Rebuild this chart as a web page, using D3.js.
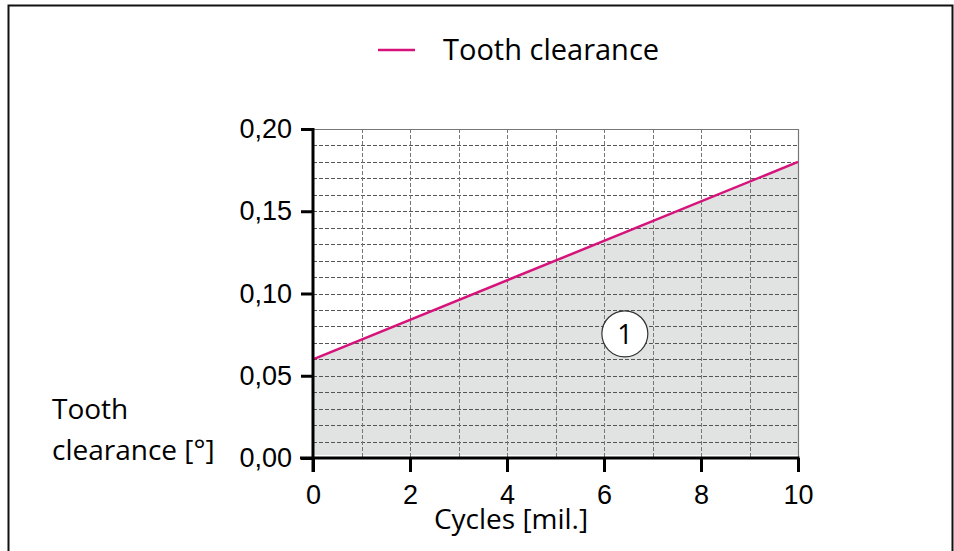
<!DOCTYPE html>
<html>
<head>
<meta charset="utf-8">
<script src="https://cdn.jsdelivr.net/npm/d3@7"></script>
<style>
  html, body { margin: 0; padding: 0; background: #fff; }
  svg { display: block; }
</style>
</head>
<body>
<div id="root"></div>
<script>
// Data
const cycles = [0, 10];
const clearance = [0.06, 0.18];
const xTicks = [0, 2, 4, 6, 8, 10];
const yTicks = [0, 0.05, 0.1, 0.15, 0.2];
const seriesName = "Tooth clearance";
const annotationLabel = "1";
const annotationPos = [6.43, 0.0755];

// Set constants
const fullWidth = 954;
const fullHeight = 551;
const margin = { top: 129, right: 156, bottom: 93, left: 313 };
const innerWidth = fullWidth - margin.left - margin.right;
const innerHeight = fullHeight - margin.top - margin.bottom;
const titleFont = "'Open Sans', sans-serif";
const tickFont = "'Liberation Sans', Arial, sans-serif";
const lineColor = "#d6137a";

const svg = d3
  .select("#root")
  .append("svg")
  .attr("width", fullWidth)
  .attr("height", fullHeight);

// Outer frame (left, top, right)
svg
  .append("path")
  .attr("d", "M8.5,551V5.5H952.5V551")
  .attr("fill", "none")
  .attr("stroke", "#111")
  .attr("stroke-width", 2);

const g = svg
  .append("g")
  .attr("transform", `translate(${margin.left},${margin.top})`);

// Scales
const xScale = d3.scaleLinear().domain([0, 10]).range([0, innerWidth]);
const yScale = d3.scaleLinear().domain([0, 0.2]).range([innerHeight, 0]);

const points = cycles.map((c, i) => ({ x: c, y: clearance[i] }));

// Area under the line
const area = d3
  .area()
  .x((d) => xScale(d.x))
  .y0(yScale(0) - 3)
  .y1((d) => yScale(d.y));
g.append("path")
  .datum(points)
  .attr("d", area)
  .attr("fill", "#e1e2e2");

// Horizontal grid every 0.01
const hGrid = d3.range(1, 20).map((i) => i / 100);
g.selectAll(".hgrid")
  .data(hGrid)
  .enter()
  .append("line")
  .attr("x1", 0)
  .attr("x2", innerWidth)
  .attr("y1", (d) => Math.round(yScale(d)) + 0.5)
  .attr("y2", (d) => Math.round(yScale(d)) + 0.5)
  .attr("stroke", "#555")
  .attr("stroke-width", 1)
  .attr("stroke-dasharray", "4,2");

// Vertical grid every 1
g.selectAll(".vgrid")
  .data(d3.range(1, 10))
  .enter()
  .append("line")
  .attr("x1", (d) => Math.round(xScale(d)) + 0.5)
  .attr("x2", (d) => Math.round(xScale(d)) + 0.5)
  .attr("y1", 0)
  .attr("y2", innerHeight)
  .attr("stroke", "#777")
  .attr("stroke-width", 1)
  .attr("stroke-dasharray", "4,2");

// Top and right border of plot
g.append("path")
  .attr("d", `M0,0.5H${innerWidth + 0.5}V${innerHeight}`)
  .attr("fill", "none")
  .attr("stroke", "#777")
  .attr("stroke-width", 1.2);

// Data line
const line = d3
  .line()
  .x((d) => xScale(d.x))
  .y((d) => yScale(d.y));
g.append("path")
  .datum(points)
  .attr("d", line)
  .attr("fill", "none")
  .attr("stroke", lineColor)
  .attr("stroke-width", 2.5);

// Axes
const yAxis = d3
  .axisLeft(yScale)
  .tickValues(yTicks)
  .tickSize(12)
  .tickPadding(9)
  .tickFormat((d) => d3.format(".2f")(d).replace(".", ","));
const xAxis = d3
  .axisBottom(xScale)
  .tickValues(xTicks)
  .tickSize(14)
  .tickPadding(13)
  .tickFormat(d3.format("d"));

const yAxisG = g.append("g").call(yAxis);
const xAxisG = g
  .append("g")
  .attr("transform", `translate(0,${innerHeight})`)
  .call(xAxis);

[yAxisG, xAxisG].forEach((ax) => {
  ax.select(".domain").remove();
  ax.selectAll(".tick line").attr("stroke", "#000").attr("stroke-width", 3);
  ax.selectAll(".tick text")
    .attr("fill", "#000")
    .style("font-family", tickFont)
    .style("font-size", "27px");
});

// Axis lines
g.append("line")
  .attr("x1", 0)
  .attr("x2", 0)
  .attr("y1", -1)
  .attr("y2", innerHeight + 14)
  .attr("stroke", "#000")
  .attr("stroke-width", 3);
g.append("line")
  .attr("x1", -13)
  .attr("x2", innerWidth + 1.5)
  .attr("y1", innerHeight)
  .attr("y2", innerHeight)
  .attr("stroke", "#000")
  .attr("stroke-width", 3);

// Annotation
const ann = g
  .append("g")
  .attr(
    "transform",
    `translate(${xScale(annotationPos[0])},${yScale(annotationPos[1])})`
  );
ann.append("circle")
  .attr("r", 23)
  .attr("fill", "#fff")
  .attr("stroke", "#333")
  .attr("stroke-width", 1.2);
ann.append("text")
  .attr("text-anchor", "middle")
  .attr("dy", "0.36em")
  .style("font-family", titleFont)
  .style("font-size", "27px")
  .text(annotationLabel);

// Axis titles
svg.append("text")
  .attr("x", 511)
  .attr("y", 529)
  .attr("text-anchor", "middle")
  .style("font-family", titleFont)
  .style("font-size", "28px")
  .text("Cycles [mil.]");

const yTitle = svg
  .append("text")
  .attr("x", 52)
  .style("font-family", titleFont)
  .style("font-size", "28px");
yTitle.append("tspan").attr("x", 52).attr("y", 419).text("Tooth");
yTitle.append("tspan").attr("x", 52).attr("y", 460).text("clearance [°]");

// Legend
svg.append("line")
  .attr("x1", 378)
  .attr("x2", 415)
  .attr("y1", 50)
  .attr("y2", 50)
  .attr("stroke", lineColor)
  .attr("stroke-width", 2.5);
svg.append("text")
  .attr("x", 443)
  .attr("y", 60)
  .style("font-family", titleFont)
  .style("font-size", "29px")
  .text(seriesName);
</script>
</body>
</html>
